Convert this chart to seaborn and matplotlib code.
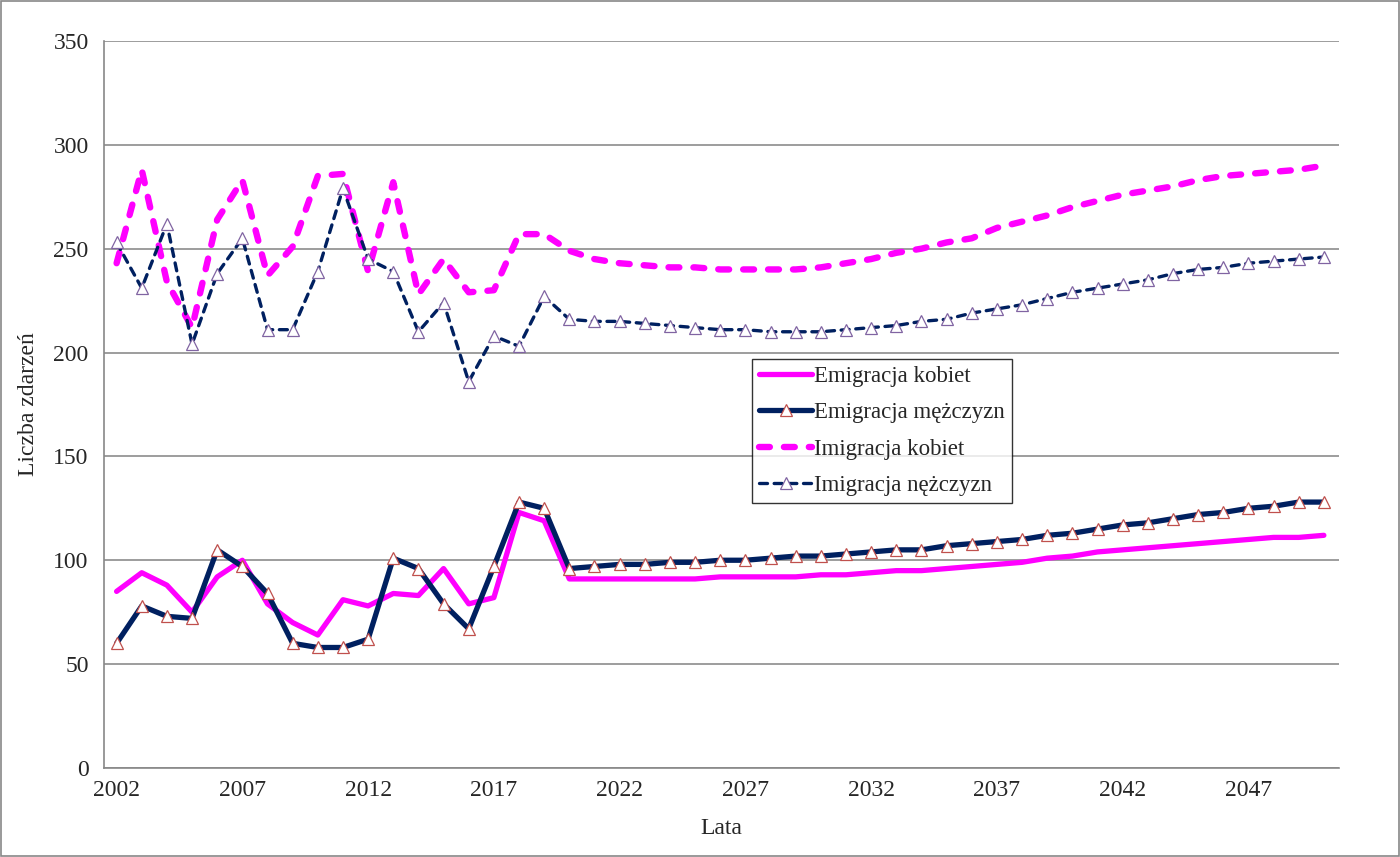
import matplotlib
matplotlib.use("Agg")
import matplotlib.pyplot as plt
from matplotlib.patches import Rectangle
from matplotlib.ticker import MultipleLocator
import seaborn as sns

# Dane (lata 2002-2050)
lata = list(range(2002, 2051))

emigracja_kobiet = [
    85, 94, 88, 75, 92, 100, 79, 70, 64, 81, 78, 84, 83, 96, 79, 82, 123, 119,
    91, 91, 91, 91, 91, 91, 92, 92, 92, 92, 93, 93, 94, 95, 95, 96,
    97, 98, 99, 101, 102, 104, 105, 106, 107, 108, 109, 110, 111, 111, 112,
]
emigracja_mezczyzn = [
    60, 78, 73, 72, 105, 97, 84, 60, 58, 58, 62, 101, 96, 79, 67, 97, 128, 125,
    96, 97, 98, 98, 99, 99, 100, 100, 101, 102, 102, 103, 104, 105, 105, 107,
    108, 109, 110, 112, 113, 115, 117, 118, 120, 122, 123, 125, 126, 128, 128,
]
imigracja_kobiet = [
    243, 288, 234, 212, 264, 283, 237, 251, 285, 286, 239, 282, 228, 245, 229, 230, 257, 257,
    249, 245, 243, 242, 241, 241, 240, 240, 240, 240, 241, 243, 245, 248, 250, 253,
    255, 260, 263, 266, 270, 273, 276, 278, 280, 283, 285, 286, 287, 288, 290,
]
imigracja_mezczyzn = [
    253, 231, 262, 204, 238, 255, 211, 211, 239, 279, 245, 239, 210, 224, 186, 208, 203, 227,
    216, 215, 215, 214, 213, 212, 211, 211, 210, 210, 210, 211, 212, 213, 215, 216,
    219, 221, 223, 226, 229, 231, 233, 235, 238, 240, 241, 243, 244, 245, 246,
]

etykiety = ["Emigracja kobiet", "Emigracja mężczyzn", "Imigracja kobiet", "Imigracja nężczyzn"]

sns.set_style("white")
plt.rcParams["font.family"] = ["Liberation Serif", "DejaVu Serif"]

fig = plt.figure(figsize=(14, 8.57), dpi=100)
ax = fig.add_axes([0.0743, 0.1039, 0.8821, 0.8483])

magenta = "#FF00FF"
navy = "#002060"

sns.lineplot(x=lata, y=emigracja_kobiet, ax=ax, color=magenta, linewidth=3.8,
             label=etykiety[0])
sns.lineplot(x=lata, y=emigracja_mezczyzn, ax=ax, color=navy, linewidth=3.8,
             marker="^", markersize=8.5, markerfacecolor="white",
             markeredgecolor="#C0504D", markeredgewidth=0.9, label=etykiety[1])
sns.lineplot(x=lata, y=imigracja_kobiet, ax=ax, color=magenta, linewidth=4.6,
             linestyle=(0, (1.7, 2.2)), dash_capstyle="round", label=etykiety[2])
sns.lineplot(x=lata, y=imigracja_mezczyzn, ax=ax, color=navy, linewidth=2.4,
             linestyle=(0, (2.4, 2.0)), dash_capstyle="round",
             marker="^", markersize=8.5, markerfacecolor="white",
             markeredgecolor="#8064A2", markeredgewidth=0.9, label=etykiety[3])

# Osie
ax.set_xlim(2001.6, 2050.6)
ax.set_ylim(0, 350)
ax.yaxis.set_major_locator(MultipleLocator(50))
ax.set_xticks(list(range(2002, 2050, 5)))
ax.set_xticks([r + 0.5 for r in range(2001, 2051)], minor=True)
ax.tick_params(axis="x", which="major", length=0, pad=9, labelsize=17)
ax.tick_params(axis="x", which="minor", length=6, color="#888888", width=1)
ax.tick_params(axis="y", which="major", length=6, color="#888888", width=1,
               labelsize=17, pad=5)
ax.grid(axis="y", color="#8C8C8C", linewidth=1.2)
ax.set_axisbelow(True)
for s in ["top", "right"]:
    ax.spines[s].set_visible(False)
for s in ["left", "bottom"]:
    ax.spines[s].set_color("#888888")
    ax.spines[s].set_linewidth(1.2)

ax.set_xlabel("Lata", fontsize=17, labelpad=12)
ax.set_ylabel("Liczba zdarzeń", fontsize=17, labelpad=10)

leg = ax.legend(loc="upper left", bbox_to_anchor=(0.5247, 0.5626), borderaxespad=0,
                fontsize=16.5, frameon=True, fancybox=False, edgecolor="black",
                handlelength=2.3, handletextpad=0.1, labelspacing=0.66,
                borderpad=0.32, numpoints=1)
leg.get_frame().set_linewidth(1.0)

# Ramka wokół całego wykresu
fig.patches.append(Rectangle((0.0007, 0.0012), 0.9986, 0.9976, transform=fig.transFigure,
                             fill=False, edgecolor="#888888", linewidth=1.2))

fig.savefig("out.png", dpi=100)
